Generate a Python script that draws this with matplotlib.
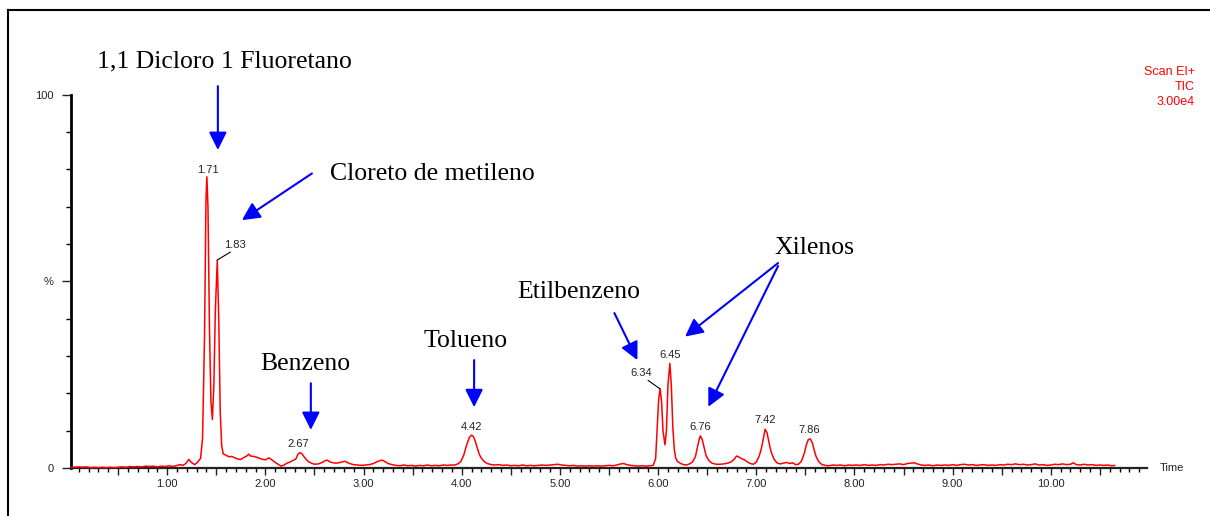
import matplotlib
matplotlib.use('Agg')
import matplotlib.pyplot as plt
import numpy as np
from matplotlib.ticker import FixedLocator, FuncFormatter
from matplotlib.lines import Line2D

plt.rcParams['font.family'] = ['Liberation Sans', 'DejaVu Sans']

# ---------------- data ----------------
times = [0.03, 0.06, 0.10, 0.14, 0.18, 0.22, 0.26, 0.30, 0.34, 0.38, 0.42, 0.46, 0.50, 0.54, 0.58,
         0.62, 0.66, 0.70, 0.74, 0.78, 0.82, 0.86, 0.90, 0.94, 0.98, 1.02, 1.06, 1.10, 1.13, 1.16,
         1.19, 1.22, 1.25, 1.28, 1.31, 1.34, 1.36, 1.38, 1.395, 1.404, 1.415, 1.43, 1.445, 1.46,
         1.475, 1.49, 1.51, 1.525, 1.54, 1.555, 1.57, 1.60, 1.63, 1.66, 1.69, 1.72, 1.75, 1.78,
         1.81, 1.83, 1.85, 1.88, 1.91, 1.94, 1.97, 2.00, 2.02, 2.04, 2.07, 2.10, 2.13, 2.16, 2.19,
         2.22, 2.25, 2.28, 2.31, 2.33, 2.35, 2.37, 2.40, 2.43, 2.46, 2.50, 2.54, 2.58, 2.61, 2.63,
         2.66, 2.69, 2.72, 2.75, 2.78, 2.81, 2.84, 2.87, 2.90, 2.94, 2.98, 3.02, 3.06, 3.10, 3.14,
         3.17, 3.19, 3.22, 3.25, 3.29, 3.33, 3.37, 3.41, 3.45, 3.49, 3.53, 3.57, 3.61, 3.65, 3.69,
         3.73, 3.77, 3.81, 3.85, 3.89, 3.93, 3.96, 3.99, 4.02, 4.05, 4.08, 4.10, 4.12, 4.14, 4.16,
         4.18, 4.20, 4.23, 4.26, 4.30, 4.34, 4.38, 4.42, 4.46, 4.50, 4.54, 4.58, 4.62, 4.66, 4.70,
         4.74, 4.78, 4.82, 4.86, 4.90, 4.94, 4.98, 5.02, 5.06, 5.10, 5.14, 5.18, 5.22, 5.26, 5.30,
         5.34, 5.38, 5.42, 5.46, 5.50, 5.54, 5.58, 5.62, 5.65, 5.68, 5.72, 5.76, 5.80, 5.84, 5.88,
         5.92, 5.95, 5.975, 5.99, 6.005, 6.02, 6.035, 6.05, 6.07, 6.085, 6.10, 6.12, 6.135, 6.15,
         6.165, 6.18, 6.20, 6.23, 6.26, 6.29, 6.32, 6.35, 6.38, 6.40, 6.42, 6.43, 6.45, 6.47, 6.49,
         6.52, 6.55, 6.59, 6.63, 6.67, 6.71, 6.74, 6.77, 6.80, 6.82, 6.85, 6.88, 6.91, 6.94, 6.97,
         7.00, 7.03, 7.05, 7.07, 7.09, 7.11, 7.13, 7.15, 7.18, 7.21, 7.24, 7.28, 7.31, 7.34, 7.37,
         7.40, 7.43, 7.46, 7.49, 7.51, 7.53, 7.55, 7.57, 7.59, 7.61, 7.64, 7.67, 7.70, 7.74, 7.78,
         7.82, 7.86, 7.90, 7.94, 7.98, 8.02, 8.06, 8.10, 8.14, 8.18, 8.22, 8.26, 8.30, 8.34, 8.38,
         8.42, 8.46, 8.50, 8.54, 8.58, 8.61, 8.64, 8.68, 8.72, 8.76, 8.80, 8.84, 8.88, 8.92, 8.96,
         9.00, 9.04, 9.08, 9.12, 9.16, 9.20, 9.24, 9.28, 9.32, 9.36, 9.40, 9.44, 9.48, 9.52, 9.56,
         9.60, 9.64, 9.68, 9.72, 9.76, 9.80, 9.84, 9.88, 9.92, 9.96, 10.00, 10.04, 10.08, 10.12,
         10.16, 10.20, 10.23, 10.26, 10.30, 10.34, 10.38, 10.42, 10.46, 10.50, 10.54, 10.58,
         10.62, 10.65]
intensity = [0.3, 0.2, 0.3, 0.2, 0.3, 0.1, 0.2, 0.1, 0.2, 0.1, 0.2, 0.1, 0.2, 0.3, 0.2,
             0.4, 0.3, 0.4, 0.3, 0.5, 0.4, 0.5, 0.3, 0.5, 0.4, 0.6, 0.4, 0.7, 0.9, 0.7,
             1.2, 2.3, 1.4, 0.9, 1.6, 2.6, 8.0, 35.0, 72.0, 78.0, 70.0, 38.0, 18.0, 13.0,
             22.0, 42.0, 55.7, 40.0, 15.0, 6.0, 3.8, 3.4, 3.0, 3.1, 2.7, 2.4, 2.3, 2.8,
             3.2, 3.7, 3.2, 3.1, 2.9, 2.6, 2.3, 2.2, 2.5, 2.7, 2.1, 1.5, 1.0, 0.5, 0.8,
             1.3, 1.6, 2.0, 2.4, 3.6, 4.1, 3.9, 2.8, 1.9, 1.4, 1.0, 1.1, 1.5, 2.0, 2.1,
             1.6, 1.4, 1.3, 1.4, 1.6, 1.8, 1.4, 1.1, 0.9, 0.8, 0.7, 0.8, 0.9, 1.2, 1.7,
             2.0, 2.1, 1.7, 1.2, 0.9, 0.7, 0.6, 0.8, 0.6, 0.7, 0.5, 0.7, 0.6, 0.8, 0.6,
             0.7, 0.6, 0.8, 0.7, 0.8, 0.8, 1.1, 1.7, 3.4, 6.2, 8.3, 8.8, 8.4, 7.0, 5.2,
             3.6, 2.6, 1.7, 1.2, 0.9, 0.8, 0.9, 0.7, 0.8, 0.6, 0.7, 0.6, 0.8, 0.6, 0.7,
             0.6, 0.7, 0.8, 0.7, 0.8, 0.9, 1.0, 0.8, 0.7, 0.6, 0.7, 0.5, 0.6, 0.5, 0.6,
             0.5, 0.6, 0.5, 0.6, 0.7, 0.6, 0.8, 1.1, 1.2, 0.9, 0.7, 0.6, 0.5, 0.6, 0.5,
             0.6, 0.7, 2.5, 10.0, 18.0, 21.2, 18.0, 10.0, 6.2, 10.0, 22.0, 28.0, 22.0, 11.0,
             5.0, 2.6, 1.7, 1.2, 0.9, 0.8, 1.1, 1.6, 3.0, 5.5, 7.8, 8.6, 7.6, 5.4, 3.2,
             1.9, 1.3, 1.0, 1.0, 1.1, 1.3, 1.6, 2.2, 3.2, 3.0, 2.5, 2.2, 1.6, 1.2, 1.0,
             1.6, 3.2, 5.0, 7.6, 10.4, 9.4, 6.8, 4.4, 2.4, 1.4, 1.1, 1.3, 1.5, 1.2, 1.4,
             0.9, 1.0, 1.8, 4.0, 6.2, 7.6, 7.8, 6.8, 4.8, 3.0, 1.6, 0.9, 0.7, 0.6, 0.8,
             0.7, 0.8, 0.6, 0.8, 0.7, 0.8, 0.7, 0.9, 0.7, 0.8, 0.7, 0.9, 0.8, 1.0, 0.9,
             1.0, 1.1, 0.9, 1.2, 1.3, 1.4, 1.1, 0.8, 0.7, 0.8, 0.6, 0.8, 0.7, 0.8, 0.7,
             0.9, 0.7, 0.9, 1.0, 0.8, 0.9, 0.7, 0.8, 0.9, 0.7, 0.8, 0.7, 0.9, 0.8, 1.0,
             0.9, 1.1, 0.9, 1.0, 0.8, 0.9, 1.1, 0.8, 0.9, 0.7, 0.8, 1.0, 0.9, 1.1,
             0.9, 1.0, 1.4, 0.9, 0.8, 1.0, 0.8, 0.9, 0.7, 0.8, 0.7, 0.8,
             0.6, 0.7]

peak_labels = ['1.71', '1.83', '2.67', '4.42', '6.34', '6.45', '6.76', '7.42', '7.86']
peak_times = [1.404, 1.51, 2.35, 4.10, 6.02, 6.12, 6.43, 7.09, 7.54]

compounds = ['1,1 Dicloro 1 Fluoretano', 'Cloreto de metileno', 'Benzeno', 'Tolueno',
             'Etilbenzeno', 'Xilenos']

header_lines = ['Scan EI+', 'TIC', '3.00e4']
x_label = 'Time'

# ---------------- figure ----------------
W, H = 1210, 516
fig = plt.figure(figsize=(W / 100, H / 100), dpi=100)
ax = fig.add_axes([71 / W, 1 - 468 / H, (1147 - 71) / W, (468 - 94.7) / H])
ax.set_xlim(0.02, 10.98)
ax.set_ylim(0, 100)
ax.set_facecolor('none')

ax.plot(times, intensity, color='#ff0000', lw=1.1, zorder=3, clip_on=False)

for s in ['top', 'right']:
    ax.spines[s].set_visible(False)
ax.spines['left'].set_linewidth(2.0)
ax.spines['bottom'].set_linewidth(1.6)
ax.spines['bottom'].set_color('#222222')

# x ticks
xmaj = [0.5 * i for i in range(1, 22)]
xmin = [0.1 * i for i in range(1, 110)]
ax.xaxis.set_major_locator(FixedLocator(xmaj))
ax.xaxis.set_minor_locator(FixedLocator(xmin))
ax.xaxis.set_major_formatter(FuncFormatter(
    lambda v, p: f'{v:.2f}' if abs(v - round(v)) < 1e-6 else ''))
ax.tick_params(axis='x', which='major', length=5, width=1.0, direction='out',
               pad=3.2, labelsize=8, colors='#222222')
ax.tick_params(axis='x', which='minor', length=3, width=1.0, direction='out')

# y ticks
ax.yaxis.set_major_locator(FixedLocator([0, 50, 100]))
ax.yaxis.set_minor_locator(FixedLocator(list(range(10, 100, 10))))
ax.set_yticklabels(['0', '%', '100'])
ax.tick_params(axis='y', which='major', length=6.5, width=1.0, direction='out',
               pad=6, labelsize=8, colors='#222222')
ax.tick_params(axis='y', which='minor', length=3.5, width=1.0, direction='out')

ax.annotate(x_label, xy=(1, 0), xycoords='axes fraction', xytext=(13, 0),
            textcoords='offset pixels', ha='left', va='center', fontsize=8,
            color='#222222')

# peak labels
apex = np.interp(peak_times, times, intensity)
label_offsets = {'1.71': (1, 7), '1.83': (18, 15), '2.67': (-1, 9), '4.42': (0, 8.5),
                 '6.34': (-19, 15.5), '6.45': (0, 8.5), '6.76': (0, 8.5),
                 '7.42': (0, 9), '7.86': (0, 9)}
for lab, t, h in zip(peak_labels, peak_times, apex):
    dx, dy = label_offsets[lab]
    ax.annotate(lab, xy=(t, h), xytext=(dx, dy), textcoords='offset pixels',
                ha='center', va='center', fontsize=8, color='#222222')
leaders = {'1.83': (13, 8), '6.34': (-12, 8.5)}
for lab, (lx, ly) in leaders.items():
    i = peak_labels.index(lab)
    ax.annotate('', xy=(peak_times[i], apex[i]), xytext=(lx, ly),
                textcoords='offset pixels',
                arrowprops=dict(arrowstyle='-', color='black', lw=0.8,
                                shrinkA=0, shrinkB=0))

# compound annotations (text baseline position in data coords)
serif = ['Liberation Serif', 'DejaVu Serif']
text_pos = [(1.586, 107.2, 'center'), (2.663, 77.1, 'left'), (2.405, 26.2, 'center'),
            (4.043, 32.3, 'center'), (5.196, 45.5, 'center'), (7.589, 57.3, 'center')]
for name, (tx, ty, ha) in zip(compounds, text_pos):
    ax.text(tx, ty, name, ha=ha, va='baseline', fontsize=18.5, family=serif,
            color='black', clip_on=False)

arrows = [((1.516, 102.3), (1.516, 85.2)),
          ((2.474, 78.9), (1.761, 66.4)),
          ((2.463, 22.7), (2.463, 10.2)),
          ((4.126, 28.9), (4.126, 16.3)),
          ((5.555, 41.5), (5.789, 28.9)),
          ((7.222, 54.9), (6.275, 35.2)),
          ((7.222, 54.1), (6.512, 16.4))]
for start, tip in arrows:
    ax.annotate('', xy=tip, xytext=start, xycoords='data', textcoords='data',
                arrowprops=dict(arrowstyle='-|>,head_length=0.4,head_width=0.2',
                                mutation_scale=27, color='#0000ff', lw=1.5,
                                shrinkA=0, shrinkB=0), annotation_clip=False)

# header (top right, red)
for line, ypix in zip(header_lines, [72, 87, 102]):
    fig.text(1195 / W, 1 - ypix / H, line, ha='right', va='center', fontsize=9,
             color='#ff0000')

# page border (top and left)
fig.add_artist(Line2D([8 / W, 1.0], [1 - 10 / H, 1 - 10 / H], color='black', lw=1.5))
fig.add_artist(Line2D([8 / W, 8 / W], [1 - 10 / H, 0.0], color='black', lw=1.5))

fig.savefig('out.png', dpi=100)
